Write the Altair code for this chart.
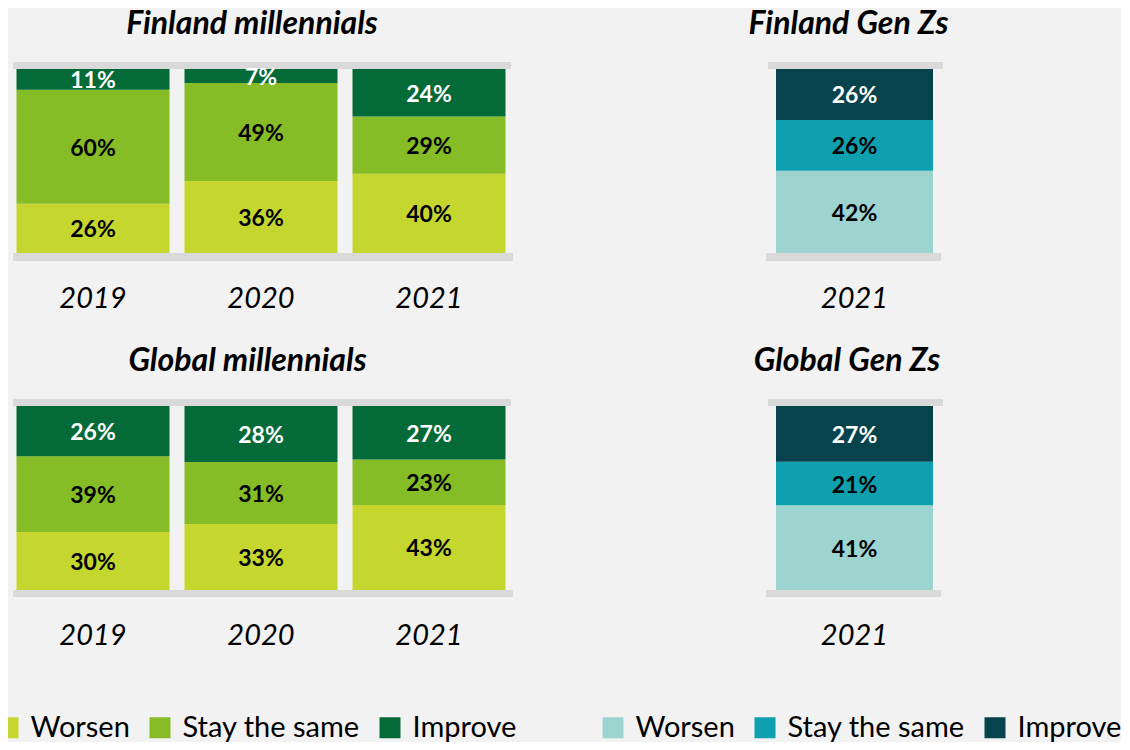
import altair as alt
import pandas as pd

# ---------------- data ----------------
responses = ["Worsen", "Stay the same", "Improve"]

years_mill = ["2019", "2020", "2021"]
fin_mill_worsen = [26, 36, 40]
fin_mill_same = [60, 49, 29]
fin_mill_improve = [11, 7, 24]

glob_mill_worsen = [30, 33, 43]
glob_mill_same = [39, 31, 23]
glob_mill_improve = [26, 28, 27]

years_genz = ["2021"]
fin_genz_worsen = [42]
fin_genz_same = [26]
fin_genz_improve = [26]

glob_genz_worsen = [41]
glob_genz_same = [21]
glob_genz_improve = [27]

mill_colors = ["#C5D72E", "#86BC25", "#046A38"]
genz_colors = ["#9DD4CF", "#0FA0B0", "#07434C"]

BG = "#F2F2F2"
BAND = "#D9D9D9"
FONT = "Lato"


def make_df(years, worsen, same, improve):
    rows = []
    for i, y in enumerate(years):
        for k, (r, v) in enumerate(zip(responses, [worsen[i], same[i], improve[i]])):
            rows.append({"year": y, "response": r, "ord": k, "value": v, "label": f"{v}%"})
    return pd.DataFrame(rows)


one = pd.DataFrame({"k": [0]})


def panel(df, title, colors, width, pad_inner, pad_outer, top_x, bot_x, bot_y, bot_w,
          title_dx, legend=None):
    base = alt.Chart(df).transform_stack(
        stack="value", groupby=["year"], as_=["y0", "y1"], offset="normalize",
        sort=[alt.SortField(field="ord", order="ascending")],
    ).transform_calculate(ymid="(datum.y0 + datum.y1) / 2")

    xenc = alt.X(
        "year:N", title=None,
        scale=alt.Scale(paddingInner=pad_inner, paddingOuter=pad_outer),
        axis=alt.Axis(domain=False, ticks=False, tickSize=0, labelPadding=31, labelAngle=0,
                      labelFont=FONT, labelFontStyle="italic", labelFontSize=29,
                      labelColor="black", grid=False),
    )
    yscale = alt.Scale(domain=[0, 1], nice=False, zero=False)
    color = alt.Color("response:N", scale=alt.Scale(domain=responses, range=colors),
                      legend=legend, sort=responses)

    bars = base.mark_bar(strokeWidth=0).encode(
        x=xenc,
        y=alt.Y("y0:Q", scale=yscale, axis=None),
        y2="y1:Q",
        color=color,
    )
    labels = base.mark_text(font=FONT, fontWeight="bold", fontSize=23, baseline="middle", dy=2).encode(
        x=xenc,
        y=alt.Y("ymid:Q", scale=yscale, axis=None),
        text="label:N",
        color=alt.condition("datum.response == 'Improve'", alt.value("white"), alt.value("black")),
    )
    top_rule = alt.Chart(one).mark_rule(color=BAND, strokeWidth=7).encode(
        x=alt.value(top_x[0]), x2=alt.value(top_x[1]), y=alt.value(-3.5))
    bot_rule = alt.Chart(one).mark_rule(color=BAND, strokeWidth=bot_w).encode(
        x=alt.value(bot_x[0]), x2=alt.value(bot_x[1]), y=alt.value(bot_y))

    return alt.layer(top_rule, bot_rule, bars, labels).properties(
        width=width, height=184,
        title=alt.TitleParams(text=title, font=FONT, fontSize=32, fontWeight="bold",
                              fontStyle="italic", color="black", anchor="middle",
                              offset=21, dx=title_dx),
    )


def legend_at(x, y):
    return alt.Legend(orient="none", legendX=x, legendY=y, direction="horizontal", title=None,
                      symbolType="square", symbolSize=441, symbolStrokeWidth=0, symbolOpacity=1,
                      labelFont=FONT, labelFontSize=29, labelColor="black", labelOffset=8,
                      columnPadding=15, padding=0, labelLimit=400)


LW, RW = 504, 177
l_pi, l_po = 15 / 168, 0.0446
r_pi, r_po = 0.0, 0.0637

fm = panel(make_df(years_mill, fin_mill_worsen, fin_mill_same, fin_mill_improve),
           "Finland millennials", mill_colors, LW, l_pi, l_po, (4, 502), (4, 504), 188, 8, -9)
fg = panel(make_df(years_genz, fin_genz_worsen, fin_genz_same, fin_genz_improve),
           "Finland Gen Zs", genz_colors, RW, r_pi, r_po, (2, 177), (0, 175), 188, 8, -6)
gm = panel(make_df(years_mill, glob_mill_worsen, glob_mill_same, glob_mill_improve),
           "Global millennials", mill_colors, LW, l_pi, l_po, (4, 502), (4, 504), 187.5, 7, -13.5,
           legend=legend_at(-15.5, 307))
gg = panel(make_df(years_genz, glob_genz_worsen, glob_genz_same, glob_genz_improve),
           "Global Gen Zs", genz_colors, RW, r_pi, r_po, (2, 177), (0, 175), 187.5, 7, -7.5,
           legend=legend_at(-167.5, 307))

chart = alt.concat(
    fm, fg, gm, gg, columns=2,
    spacing=alt.RowColnumber(row=153, column=253), bounds="flush",
).resolve_scale(color="independent").properties(
    padding={"left": -15, "top": 0, "right": -1, "bottom": -1},
).configure(background=BG).configure_view(stroke=None)

chart.save("out.html", embed_options={"renderer": "svg", "actions": False})
